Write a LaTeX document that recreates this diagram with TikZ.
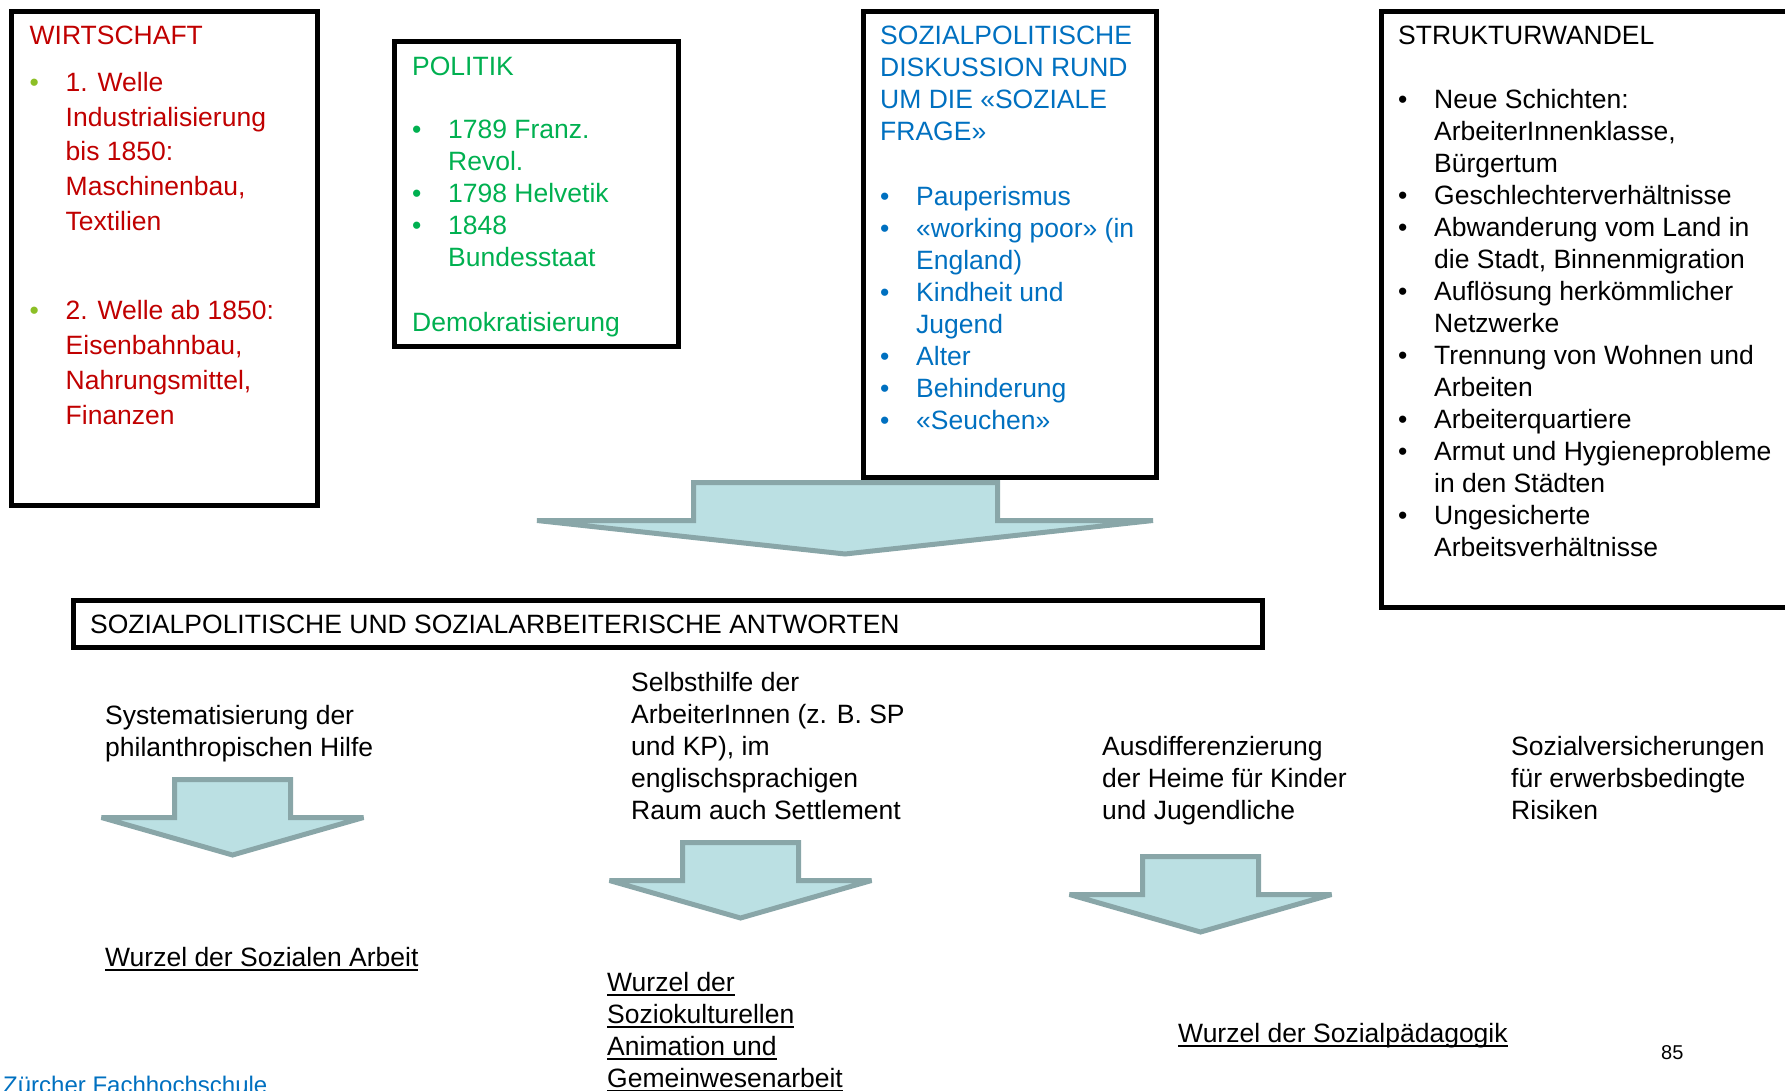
\documentclass[tikz,border=0pt]{standalone}
\usepackage{fontspec}
\setmainfont{Liberation Sans}
\newcommand{\blt}[1]{\makebox[36pt][l]{\textcolor{#1}{•}}}
\newcommand{\ind}{\hspace*{36pt}}
\newcommand{\wurzel}[1]{\leavevmode\setbox0\hbox{#1}\rlap{\rule[-4.5pt]{\wd0}{2pt}}\box0}
\begin{document}
\begin{tikzpicture}[x=1pt,y=-1pt,
        box/.style={draw=black, line width=5pt, anchor=north west, inner sep=0pt},
        txt/.style={anchor=north west, inner sep=0pt, align=left, font=\fontsize{26.5}{32}\selectfont},
        pfeil/.style={draw=pfeilrand, fill=pfeilfuell, line width=5pt, miter limit=3},
        pfeilklein/.pic={\draw[pfeil] (-58,2.5) -- (58,2.5) -- (58,40.5) -- (131,40.5) -- (0,78) -- (-131,40.5) -- (-58,40.5) -- cycle;}]
            \definecolor{rot}{HTML}{C00000}
            \definecolor{gruen}{HTML}{00B050}
            \definecolor{gelbgruen}{HTML}{8CBF26}
            \definecolor{blau}{HTML}{0070C0}
            \definecolor{pfeilfuell}{HTML}{BBE0E3}
            \definecolor{pfeilrand}{HTML}{89A6A8}
            \useasboundingbox (0,0) rectangle (1785,1091);
            \node[box, minimum width=306pt, minimum height=494pt] (wirt) at (9,9) {};
            \node[box, minimum width=284pt, minimum height=305pt] (polit) at (392,39) {};
            \node[box, minimum width=293pt, minimum height=466pt] (sozdisk) at (861,9) {};
            \node[box, minimum width=416pt, minimum height=596pt] (struktur) at (1379,9) {};
            \node[box, minimum width=1189pt, minimum height=47pt] (antw) at (71,598) {};
            \draw[pfeil] (693.5,482.5) -- (997.5,482.5) -- (997.5,520.5) -- (1153,520.5) -- (845,554) -- (537,520.5) -- (693.5,520.5) -- cycle;
            \pic at (232.5,777) {pfeilklein};
            \pic at (740.5,840) {pfeilklein};
            \pic at (1200.5,854) {pfeilklein};
            \node[txt, text=rot, font=\fontsize{26.5}{34.7}\selectfont] (wirtT) at (29.5,26) {WIRTSCHAFT\\[12pt]
                \blt{gelbgruen}1. Welle\\ \ind Industrialisierung\\ \ind bis 1850:\\ \ind Maschinenbau,\\ \ind Textilien\\[55pt]
                \blt{gelbgruen}2. Welle ab 1850:\\ \ind Eisenbahnbau,\\ \ind Nahrungsmittel,\\ \ind Finanzen};
            \node[txt, text=gruen] (politT) at (412,56.5) {POLITIK\\[31.7pt]
                \blt{gruen}1789 Franz.\\ \ind Revol.\\ \blt{gruen}1798 Helvetik\\ \blt{gruen}1848\\ \ind Bundesstaat\\[33pt]
                Demokratisierung};
            \node[txt, text=blau] (sozdiskT) at (880,26) {SOZIALPOLITISCHE\\ DISKUSSION RUND\\ UM DIE «SOZIALE\\ FRAGE»\\[33pt]
                \blt{blau}Pauperismus\\ \blt{blau}«working poor» (in\\ \ind England)\\ \blt{blau}Kindheit und\\ \ind Jugend\\
                \blt{blau}Alter\\ \blt{blau}Behinderung\\ \blt{blau}«Seuchen»};
            \node[txt] (strukturT) at (1398,26) {STRUKTURWANDEL\\[32pt]
                \blt{black}Neue Schichten:\\ \ind ArbeiterInnenklasse,\\ \ind Bürgertum\\ \blt{black}Geschlechterverhältnisse\\
                \blt{black}Abwanderung vom Land in\\ \ind die Stadt, Binnenmigration\\ \blt{black}Auflösung herkömmlicher\\ \ind Netzwerke\\
                \blt{black}Trennung von Wohnen und\\ \ind Arbeiten\\ \blt{black}Arbeiterquartiere\\ \blt{black}Armut und Hygieneprobleme\\
                \ind in den Städten\\ \blt{black}Ungesicherte\\ \ind Arbeitsverhältnisse};
            \node[txt, anchor=west] (antwT) at (90,624) {SOZIALPOLITISCHE UND SOZIALARBEITERISCHE ANTWORTEN};
            \node[txt] (syst) at (105,705) {Systematisierung der\\ philanthropischen Hilfe};
            \node[txt] (selbst) at (631,672) {Selbsthilfe der\\ ArbeiterInnen (z. B. SP\\ und KP), im\\ englischsprachigen\\ Raum auch Settlement};
            \node[txt] (ausdiff) at (1102,736) {Ausdifferenzierung\\ der Heime für Kinder\\ und Jugendliche};
            \node[txt] (sozvers) at (1511,736) {Sozialversicherungen\\ für erwerbsbedingte\\ Risiken};
            \node[txt] (wurzelSA) at (105,947) {\wurzel{Wurzel der Sozialen Arbeit}};
            \node[txt] (wurzelSKA) at (607,972) {\wurzel{Wurzel der}\\ \wurzel{Soziokulturellen}\\ \wurzel{Animation und}\\ \wurzel{Gemeinwesenarbeit}};
            \node[txt] (wurzelSP) at (1178,1023) {\wurzel{Wurzel der Sozialpädagogik}};
            \node[txt, font=\fontsize{20}{24}\selectfont] (seite) at (1661,1045) {85};
            \node[txt, text=blau, font=\fontsize{24}{28}\selectfont] (zhf) at (3,1076) {Zürcher Fachhochschule};
        \end{tikzpicture}
\end{document}
